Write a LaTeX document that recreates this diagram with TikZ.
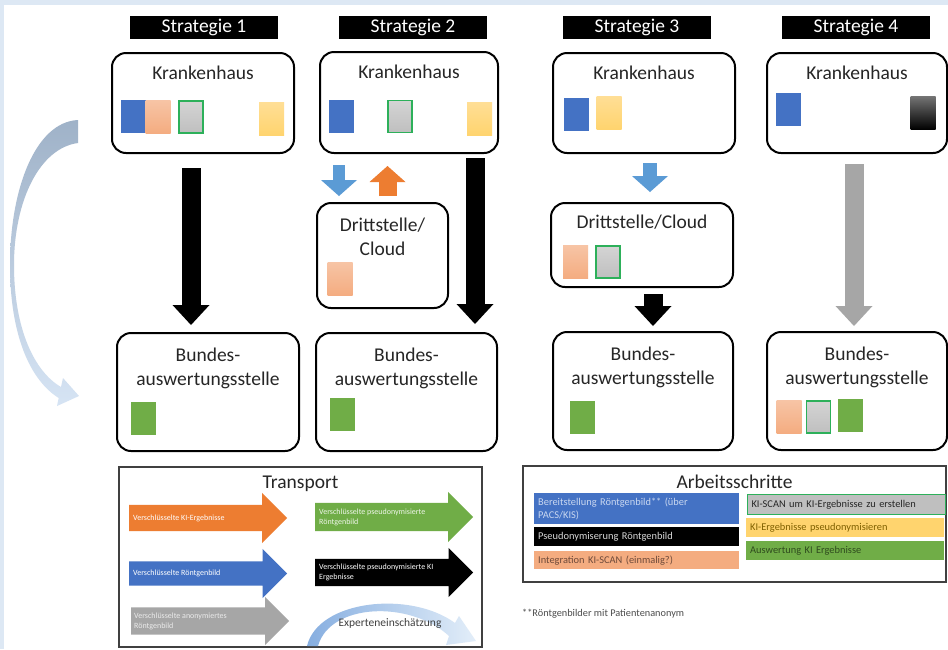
\documentclass[tikz,border=0pt]{standalone}
\usepackage{fontspec}
\setmainfont{Carlito}
\usetikzlibrary{arrows.meta, positioning, shapes.arrows}

\definecolor{pageblue}{HTML}{DDE8F4}
\definecolor{docblue}{HTML}{4472C4}
\definecolor{docsalmon}{HTML}{F4AC80}
\definecolor{salmontop}{HTML}{F7C4A5}
\definecolor{docgray}{HTML}{BFBFBF}
\definecolor{graytop}{HTML}{D4D4D4}
\definecolor{scanborder}{HTML}{2DB05A}
\definecolor{docyellow}{HTML}{FFD46E}
\definecolor{yellowtop}{HTML}{FFDE95}
\definecolor{docgreen}{HTML}{70AD47}
\definecolor{flowblue}{HTML}{5B9BD5}
\definecolor{floworange}{HTML}{ED7D31}
\definecolor{flowgray}{HTML}{A6A6A6}
\definecolor{arcsteel}{HTML}{9FB2C8}
\definecolor{arcpale}{HTML}{D6E4F4}
\definecolor{expertblue}{HTML}{86AEE0}
\definecolor{expertpale}{HTML}{E3EEF9}
\definecolor{xraytext}{HTML}{C9D7F0}
\definecolor{salmontext}{HTML}{6E4A3A}
\definecolor{yellowtext}{HTML}{7F6000}
\definecolor{greentext}{HTML}{2F4B1E}

\begin{document}
\begin{tikzpicture}[x=1pt, y=-1pt,
    every node/.style={font=\fontsize{19.5}{24}\selectfont, text=black!85},
    header/.style={fill=black, text=white, minimum width=148pt, minimum height=23pt, inner sep=0pt},
    site/.style={draw, line width=2pt, rounded corners=14pt, inner sep=0pt},
    sitename/.style={inner sep=0pt, align=center},
    doc/.style={minimum width=25pt, minimum height=33pt, inner sep=0pt},
    xray/.style={doc, fill=docblue},
    anon/.style={doc, top color=black!55, bottom color=black},
    setup/.style={doc, top color=salmontop, bottom color=docsalmon},
    scan/.style={doc, top color=graytop, bottom color=docgray, draw=scanborder, line width=1.5pt, minimum width=24pt, minimum height=32pt},
    pseudo/.style={doc, top color=yellowtop, bottom color=docyellow},
    evaldoc/.style={doc, fill=docgreen},
    flow/.style={line width=19pt, -{Triangle[width=37pt,length=20pt,line width=0pt]}},
    hop/.style={line width=#1, -{Triangle[width=36pt,length=16pt,line width=0pt]}},
    panel/.style={draw=black!75, line width=1.5pt, inner sep=0pt},
    parcel/.style={single arrow, single arrow head extend=12pt, minimum height=158pt, inner xsep=0pt, inner ysep=13pt, anchor=tail},
    parceltext/.style={font=\fontsize{8}{10}\selectfont, text=white, align=left, inner sep=0pt},
    stepbar/.style={anchor=north west, inner xsep=4pt, inner ysep=0pt, align=left, font=\fontsize{10.4}{13}\selectfont}
]
    \useasboundingbox (0,0) rectangle (948,649);
    \fill[pageblue] (0,0) rectangle (948,649);
    \fill[white] (4,5) rectangle (948,649);

    % strategy headers
    \node[header] (s1) at (204,27.5) {Strategie 1};
    \node[header] (s2) at (413,27) {Strategie 2};
    \node[header] (s3) at (637,27.5) {Strategie 3};
    \node[header] (s4) at (856,27) {Strategie 4};

    % hospitals
    \node[site, minimum width=182pt, minimum height=100pt] (k1) at (203,103) {};
    \node[site, minimum width=178pt, minimum height=101pt] (k2) at (409,102.5) {};
    \node[site, minimum width=182pt, minimum height=100pt] (k3) at (644,103) {};
    \node[site, minimum width=180pt, minimum height=100pt] (k4) at (857,103) {};
    \node[sitename, below=14pt of k1.north] (k1name) {Krankenhaus};
    \node[sitename, below=14pt of k2.north] (k2name) {Krankenhaus};
    \node[sitename, below=14pt of k3.north] (k3name) {Krankenhaus};
    \node[sitename, below=14pt of k4.north] (k4name) {Krankenhaus};

    % third party / cloud
    \node[site, minimum width=131pt, minimum height=105pt] (d2) at (382.5,255.5) {};
    \node[site, minimum width=182pt, minimum height=84pt] (d3) at (642,245) {};
    \node[sitename, below=15.5pt of d2.north] (d2name) {Drittstelle/\\Cloud};
    \node[sitename, below=13pt of d3.north] (d3name) {Drittstelle/Cloud};

    % federal evaluation office
    \node[site, minimum width=182pt, minimum height=118pt] (b1) at (208,392) {};
    \node[site, minimum width=181pt, minimum height=118pt] (b2) at (406.5,392) {};
    \node[site, minimum width=180pt, minimum height=118pt] (b3) at (643,391) {};
    \node[site, minimum width=180pt, minimum height=118pt] (b4) at (857,391) {};
    \node[sitename, below=16pt of b1.north] (b1name) {Bundes-\\auswertungsstelle};
    \node[sitename, below=16pt of b2.north] (b2name) {Bundes-\\auswertungsstelle};
    \node[sitename, below=16pt of b3.north] (b3name) {Bundes-\\auswertungsstelle};
    \node[sitename, below=16pt of b4.north] (b4name) {Bundes-\\auswertungsstelle};

    % work steps per site
    \node[xray] (k1xray) at (133,116.5) {};
    \node[setup] (k1setup) at (158,117) {};
    \node[scan] (k1scan) at (191,117) {};
    \node[pseudo] (k1pseudo) at (271.5,119) {};
    \node[xray] (k2xray) at (341.5,116) {};
    \node[scan] (k2scan) at (400,116.5) {};
    \node[pseudo] (k2pseudo) at (479.5,119) {};
    \node[xray] (k3xray) at (576,114) {};
    \node[pseudo] (k3pseudo) at (609,113) {};
    \node[xray] (k4xray) at (788.5,109.5) {};
    \node[anon] (k4anon) at (923,113) {};
    \node[setup] (d2setup) at (340,279) {};
    \node[setup] (d3setup) at (575.5,262) {};
    \node[scan] (d3scan) at (608,262) {};
    \node[evaldoc] (b1eval) at (143.5,418.5) {};
    \node[evaldoc] (b2eval) at (342,414) {};
    \node[evaldoc] (b3eval) at (582,417) {};
    \node[setup] (b4setup) at (789,417) {};
    \node[scan] (b4scan) at (818.5,417) {};
    \node[evaldoc] (b4eval) at (850.5,415.5) {};

    % transfers
    \draw[flow, shorten <=14pt, shorten >=7pt] ([xshift=-12pt]k1.south) -- ([xshift=-12pt]k1.south |- b1.north);
    \draw[flow, shorten <=4pt, shorten >=8pt] ([xshift=66pt]k2.south) -- ([xshift=66pt]k2.south |- b2.north);
    \draw[hop=12pt, flowblue, shorten <=11pt, shorten >=6pt] ([xshift=-70pt]k2.south) -- ([xshift=-70pt]k2.south |- d2.north);
    \draw[hop=18pt, floworange, shorten <=6pt, shorten >=12pt] ([xshift=5pt]d2.north) -- ([xshift=5pt]d2.north |- k2.south);
    \draw[hop=14pt, flowblue, shorten <=9pt, shorten >=10pt] ([xshift=6pt]k3.south) -- ([xshift=6pt]k3.south |- d3.north);
    \draw[flow, shorten <=6pt, shorten >=5pt] ([xshift=11pt]d3.south) -- ([xshift=11pt]d3.south |- b3.north);
    \draw[flow, flowgray, shorten <=10pt, shorten >=5pt] ([xshift=-3pt]k4.south) -- ([xshift=-3pt]k4.south |- b4.north);

    % expert estimate
    \shade[top color=arcsteel, bottom color=arcpale]
        (78,120) .. controls (35,122) and (10,190) .. (10,265)
        .. controls (10,335) and (30,380) .. (58.7,398) -- (57,406) -- (79,396) -- (63,378) -- (61,387)
        .. controls (35,372) and (14,330) .. (14,265)
        .. controls (14,200) and (40,148) .. (78,143) -- cycle;

    % legend: transport
    \node[panel, minimum width=363pt, minimum height=180pt] (transport) at (300.5,557) {};
    \node[inner sep=0pt, below=10pt of transport.north] (transporttitle) {Transport};
    \node[parcel, fill=floworange] (t1) at (129,518) {};
    \node[parcel, fill=docblue, inner ysep=12pt, single arrow head extend=12.5pt] (t2) at (129,573.5) {};
    \node[parcel, fill=flowgray, inner ysep=13.5pt, single arrow head extend=10.5pt] (t3) at (131,621) {};
    \node[parcel, fill=docgreen, inner ysep=14pt, single arrow head extend=11pt] (t4) at (315,517) {};
    \node[parcel, fill=black, inner ysep=13.5pt, single arrow head extend=11pt] (t5) at (315,572.5) {};
    \node[parceltext, right=4pt of t1.tail] (t1text) {Verschlüsselte KI-Ergebnisse};
    \node[parceltext, right=4pt of t2.tail] (t2text) {Verschlüsselte Röntgenbild};
    \node[parceltext, right=3pt of t3.tail, text=white!92!black] (t3text) {Verschlüsselte anonymiertes\\Röntgenbild};
    \node[parceltext, right=4pt of t4.tail, text=white!88!docgreen] (t4text) {Verschlüsselte pseudonymisierte\\Röntgenbild};
    \node[parceltext, right=4pt of t5.tail] (t5text) {Verschlüsselte pseudonymisierte KI\\Ergebnisse};
    \shade[left color=expertblue, right color=expertpale]
        (307,646) .. controls (318,600) and (410,590) .. (455,623) -- (459,616) -- (476,641)
        -- (446,645) -- (449,636) .. controls (410,600) and (330,603) .. (318,646) -- cycle;
    \node[inner sep=0pt, font=\fontsize{11.5}{14}\selectfont, text=black!75] (expert) at (390,623) {Experteneinschätzung};

    % legend: work steps
    \node[panel, minimum width=423pt, minimum height=116pt] (steps) at (734.5,524) {};
    \node[inner sep=0pt, below=9pt of steps.north] (stepstitle) {Arbeitsschritte};
    \node[stepbar, text width=197pt, minimum height=31pt, fill=docblue, text=xraytext] (st1) at (534,493) {Bereitstellung Röntgenbild** (über\\PACS/KIS)};
    \node[stepbar, text width=197pt, minimum height=19pt, fill=black, text=black!15] (st2) at (534,527) {Pseudonymiserung Röntgenbild};
    \node[stepbar, text width=197pt, minimum height=18pt, fill=docsalmon, text=salmontext] (st3) at (534,551) {Integration KI-SCAN (einmalig?)};
    \node[stepbar, text width=190pt, minimum height=20pt, fill=docgray, draw=scanborder, line width=1.5pt] (st4) at (746.75,493.75) {KI-SCAN um KI-Ergebnisse zu erstellen};
    \node[stepbar, text width=190pt, minimum height=19pt, fill=docyellow, text=yellowtext] (st5) at (746,518) {KI-Ergebnisse pseudonymisieren};
    \node[stepbar, text width=190pt, minimum height=19pt, fill=docgreen, text=greentext] (st6) at (746,541) {Auswertung KI Ergebnisse};
    \node[anchor=west, inner sep=0pt, font=\fontsize{10.3}{12}\selectfont, text=black!70] (footnote) at (522,614) {**Röntgenbilder mit Patientenanonym};
\end{tikzpicture}
\end{document}
